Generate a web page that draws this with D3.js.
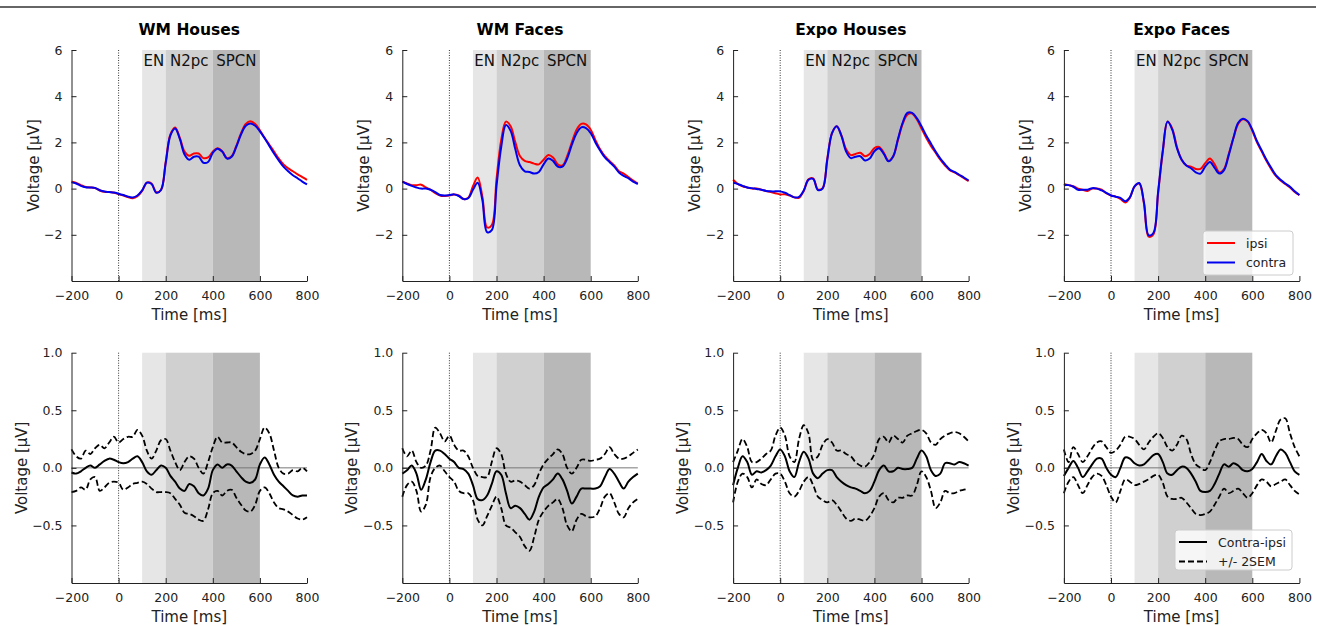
<!DOCTYPE html>
<meta charset="utf-8">
<style>
  body { margin: 0; background: #fff; }
  svg { font-family: "DejaVu Sans", sans-serif; display: block; }
</style>
<svg width="1322" height="626"></svg>
<script src="https://d3js.org/d3.v7.min.js"></script>
<script>

// time axis in ms (20 ms steps)
var times = [-200, -180, -160, -140, -120, -100, -80, -60, -40, -20,
             0, 20, 40, 60, 80, 100, 120, 140, 160, 180,
             200, 220, 240, 260, 280, 300, 320, 340, 360, 380,
             400, 420, 440, 460, 480, 500, 520, 540, 560, 580,
             600, 620, 640, 660, 680, 700, 720, 740, 760, 780, 800];

var panelTitles = ["WM Houses", "WM Faces", "Expo Houses", "Expo Faces"];
var xTicks = [-200, 0, 200, 400, 600, 800];
var topYTicks = [-2, 0, 2, 4, 6];
var bottomYTicks = [-0.5, 0, 0.5, 1.0];
// time windows: EN, N2pc, SPCN
var windows = [
  { name: "EN", from: 100, to: 200 },
  { name: "N2pc", from: 200, to: 400 },
  { name: "SPCN", from: 400, to: 600 }
];

// ---- grand averages (µV) ----
var wmHousesIpsi = [0.30, 0.25, 0.15, 0.07, 0.05, 0.02, -0.08, -0.14, -0.15, -0.18,
  -0.24, -0.30, -0.37, -0.42, -0.33, -0.10, 0.26, 0.22, -0.16, -0.06,
  1.15, 2.35, 2.65, 2.20, 1.60, 1.42, 1.52, 1.52, 1.32, 1.35,
  1.60, 1.75, 1.62, 1.32, 1.40, 1.85, 2.40, 2.80, 2.92, 2.80,
  2.52, 2.20, 1.90, 1.60, 1.30, 1.05, 0.88, 0.75, 0.62, 0.50, 0.38];
var wmHousesContra = [0.27, 0.22, 0.12, 0.06, 0.05, 0.03, -0.07, -0.13, -0.15, -0.17,
  -0.22, -0.28, -0.35, -0.38, -0.30, -0.08, 0.26, 0.20, -0.18, -0.06,
  1.10, 2.30, 2.60, 2.15, 1.48, 1.25, 1.38, 1.38, 1.12, 1.15,
  1.55, 1.73, 1.60, 1.30, 1.38, 1.82, 2.35, 2.72, 2.82, 2.72,
  2.48, 2.18, 1.85, 1.52, 1.22, 0.95, 0.75, 0.58, 0.45, 0.30, 0.18];

var wmFacesIpsi = [0.30, 0.22, 0.15, 0.15, 0.17, 0.05, -0.05, -0.20, -0.30, -0.32,
  -0.30, -0.25, -0.30, -0.45, -0.40, 0.10, 0.48, -0.35, -1.68, -1.58,
  0.40, 2.10, 2.90, 2.70, 2.00, 1.40, 1.20, 1.15, 1.08, 1.05,
  1.25, 1.45, 1.35, 1.05, 1.00, 1.40, 2.00, 2.55, 2.80, 2.78,
  2.55, 2.10, 1.70, 1.40, 1.20, 1.00, 0.75, 0.65, 0.50, 0.35, 0.22];
var wmFacesContra = [0.30, 0.20, 0.12, 0.05, 0.00, 0.00, -0.05, -0.15, -0.28, -0.30,
  -0.28, -0.25, -0.32, -0.45, -0.42, -0.05, 0.25, -0.50, -1.88, -1.80,
  0.10, 1.80, 2.75, 2.50, 1.70, 1.00, 0.75, 0.72, 0.65, 0.72,
  1.05, 1.30, 1.20, 0.95, 0.95, 1.30, 1.90, 2.40, 2.65, 2.62,
  2.40, 2.00, 1.65, 1.35, 1.15, 0.95, 0.70, 0.55, 0.45, 0.30, 0.20];

var expoHousesIpsi = [0.38, 0.20, 0.10, 0.05, 0.00, 0.00, -0.05, -0.10, -0.15, -0.20,
  -0.25, -0.25, -0.30, -0.38, -0.40, -0.10, 0.40, 0.44, -0.04, 0.02,
  1.30, 2.40, 2.70, 2.30, 1.70, 1.45, 1.50, 1.55, 1.40, 1.50,
  1.75, 1.80, 1.55, 1.20, 1.40, 2.10, 2.80, 3.20, 3.25, 3.00,
  2.60, 2.20, 1.85, 1.55, 1.25, 1.00, 0.80, 0.70, 0.58, 0.45, 0.32];
var expoHousesContra = [0.25, 0.20, 0.12, 0.05, 0.02, -0.02, -0.05, -0.10, -0.12, -0.12,
  -0.12, -0.18, -0.28, -0.38, -0.36, -0.08, 0.38, 0.42, -0.06, 0.00,
  1.25, 2.40, 2.70, 2.28, 1.60, 1.32, 1.38, 1.40, 1.22, 1.30,
  1.62, 1.75, 1.50, 1.18, 1.40, 2.15, 2.85, 3.28, 3.28, 3.05,
  2.70, 2.30, 1.95, 1.60, 1.30, 1.05, 0.82, 0.72, 0.60, 0.48, 0.35];

var expoFacesIpsi = [0.20, 0.15, 0.10, 0.00, -0.05, -0.10, 0.00, 0.00, -0.05, -0.20,
  -0.30, -0.35, -0.45, -0.60, -0.40, 0.10, 0.22, -0.65, -2.08, -1.98,
  -0.20, 1.60, 2.90, 2.60, 1.80, 1.25, 1.00, 0.95, 0.85, 0.85,
  1.10, 1.30, 1.05, 0.70, 0.85, 1.50, 2.20, 2.80, 3.00, 2.90,
  2.50, 2.00, 1.60, 1.20, 0.85, 0.55, 0.35, 0.20, 0.05, -0.15, -0.28];
var expoFacesContra = [0.15, 0.15, 0.08, -0.05, -0.05, -0.05, 0.02, 0.00, -0.08, -0.18,
  -0.30, -0.35, -0.40, -0.55, -0.38, 0.10, 0.24, -0.60, -2.02, -1.92,
  -0.15, 1.65, 2.90, 2.55, 1.75, 1.25, 1.00, 0.88, 0.70, 0.65,
  0.95, 1.15, 0.90, 0.65, 0.80, 1.45, 2.20, 2.85, 3.02, 2.92,
  2.55, 2.05, 1.65, 1.25, 0.90, 0.58, 0.38, 0.22, 0.08, -0.12, -0.28];

// ---- contra-ipsi differences and +/- 2SEM bounds (µV) ----
var wmHousesDiff = [-0.04, -0.05, -0.03, 0.00, 0.02, 0.00, 0.03, 0.06, 0.08, 0.07,
  0.05, 0.04, 0.05, 0.08, 0.10, 0.05, -0.03, -0.06, -0.02, 0.02,
  0.00, -0.07, -0.12, -0.18, -0.20, -0.14, -0.16, -0.22, -0.24, -0.18,
  -0.02, 0.03, 0.00, 0.03, 0.02, -0.03, -0.08, -0.12, -0.13, -0.10,
  0.03, 0.09, 0.03, -0.06, -0.12, -0.16, -0.20, -0.24, -0.25, -0.24, -0.24];
var wmHousesUpper = [0.16, 0.10, 0.08, 0.15, 0.12, 0.17, 0.20, 0.17, 0.22, 0.27,
  0.22, 0.25, 0.27, 0.27, 0.33, 0.28, 0.15, 0.08, 0.15, 0.24,
  0.25, 0.15, 0.05, -0.02, 0.05, 0.10, 0.08, 0.00, -0.05, 0.05,
  0.18, 0.27, 0.22, 0.22, 0.22, 0.18, 0.14, 0.12, 0.12, 0.15,
  0.25, 0.35, 0.30, 0.15, 0.00, -0.05, -0.05, -0.02, -0.03, 0.00, -0.03];
var wmHousesLower = [-0.21, -0.20, -0.17, -0.19, -0.10, -0.08, -0.20, -0.17, -0.13, -0.12,
  -0.13, -0.19, -0.17, -0.14, -0.13, -0.12, -0.14, -0.18, -0.21, -0.21,
  -0.21, -0.22, -0.27, -0.32, -0.39, -0.40, -0.42, -0.45, -0.46, -0.36,
  -0.22, -0.20, -0.24, -0.20, -0.19, -0.26, -0.32, -0.37, -0.38, -0.32,
  -0.20, -0.17, -0.22, -0.30, -0.35, -0.36, -0.38, -0.41, -0.44, -0.45, -0.43];

var wmFacesDiff = [-0.05, -0.02, 0.02, -0.05, -0.19, -0.10, 0.05, 0.15, 0.15, 0.12,
  0.08, 0.05, 0.00, -0.01, -0.05, -0.15, -0.27, -0.28, -0.24, -0.14,
  -0.03, -0.06, -0.22, -0.35, -0.33, -0.35, -0.40, -0.45, -0.38, -0.25,
  -0.17, -0.14, -0.10, -0.05, -0.10, -0.20, -0.31, -0.25, -0.18, -0.18,
  -0.18, -0.18, -0.16, -0.08, -0.01, -0.05, -0.12, -0.18, -0.12, -0.08, -0.05];
var wmFacesUpper = [0.17, 0.10, 0.15, 0.05, 0.00, 0.02, 0.15, 0.35, 0.30, 0.23,
  0.28, 0.20, 0.15, 0.15, 0.10, 0.00, -0.07, -0.08, -0.08, 0.05,
  0.17, 0.12, -0.05, -0.12, -0.11, -0.12, -0.15, -0.18, -0.15, -0.05,
  0.03, 0.08, 0.12, 0.16, 0.12, 0.00, -0.05, 0.00, 0.07, 0.07,
  0.06, 0.07, 0.08, 0.12, 0.18, 0.12, 0.08, 0.08, 0.10, 0.13, 0.16];
var wmFacesLower = [-0.25, -0.15, -0.12, -0.20, -0.38, -0.32, -0.08, 0.00, 0.02, -0.03,
  -0.08, -0.12, -0.20, -0.22, -0.22, -0.28, -0.45, -0.50, -0.42, -0.33,
  -0.25, -0.35, -0.50, -0.52, -0.56, -0.60, -0.68, -0.72, -0.60, -0.45,
  -0.38, -0.33, -0.30, -0.27, -0.35, -0.50, -0.55, -0.45, -0.40, -0.42,
  -0.43, -0.42, -0.35, -0.25, -0.22, -0.30, -0.40, -0.43, -0.35, -0.30, -0.27];

var expoHousesDiff = [-0.15, 0.00, 0.10, 0.05, -0.06, -0.03, -0.04, -0.02, 0.02, 0.10,
  0.16, 0.10, -0.03, -0.08, 0.05, 0.14, 0.08, -0.05, -0.09, -0.05,
  -0.02, -0.02, -0.08, -0.12, -0.15, -0.17, -0.18, -0.20, -0.22, -0.20,
  -0.12, -0.02, 0.02, -0.03, -0.03, 0.00, -0.01, -0.01, 0.00, 0.08,
  0.15, 0.10, -0.02, -0.07, -0.05, 0.04, 0.04, 0.03, 0.05, 0.04, 0.02];
var expoHousesUpper = [0.05, 0.15, 0.25, 0.18, 0.05, 0.05, 0.08, 0.12, 0.15, 0.28,
  0.35, 0.28, 0.10, 0.05, 0.25, 0.37, 0.30, 0.07, 0.10, 0.20,
  0.25, 0.22, 0.15, 0.15, 0.12, 0.10, 0.05, 0.02, 0.01, 0.05,
  0.12, 0.25, 0.27, 0.22, 0.28, 0.25, 0.22, 0.28, 0.30, 0.32,
  0.33, 0.30, 0.22, 0.20, 0.25, 0.28, 0.30, 0.31, 0.30, 0.27, 0.23];
var expoHousesLower = [-0.30, -0.12, -0.05, -0.08, -0.17, -0.10, -0.14, -0.15, -0.10, -0.05,
  -0.05, -0.12, -0.22, -0.25, -0.20, -0.12, -0.08, -0.15, -0.25, -0.28,
  -0.30, -0.28, -0.32, -0.38, -0.44, -0.46, -0.44, -0.45, -0.46, -0.42,
  -0.35, -0.25, -0.22, -0.28, -0.30, -0.26, -0.26, -0.24, -0.24, -0.15,
  -0.03, -0.08, -0.20, -0.35, -0.30, -0.20, -0.22, -0.22, -0.20, -0.19, -0.18];

var expoFacesDiff = [-0.07, 0.00, 0.06, 0.00, -0.08, -0.03, 0.03, 0.08, 0.08, 0.00,
  -0.06, -0.08, 0.00, 0.09, 0.08, 0.04, 0.02, 0.03, 0.07, 0.11,
  0.12, 0.05, -0.05, -0.06, -0.02, 0.01, 0.00, -0.05, -0.12, -0.20,
  -0.21, -0.20, -0.14, -0.05, 0.03, 0.01, 0.04, 0.02, -0.02, -0.03,
  -0.01, 0.05, 0.12, 0.06, 0.03, 0.10, 0.16, 0.13, 0.05, -0.03, -0.06];
var expoFacesUpper = [0.16, 0.05, 0.18, 0.12, 0.05, 0.10, 0.17, 0.22, 0.23, 0.18,
  0.13, 0.15, 0.20, 0.27, 0.27, 0.25, 0.20, 0.16, 0.22, 0.27,
  0.30, 0.26, 0.18, 0.15, 0.20, 0.28, 0.25, 0.12, 0.03, 0.00,
  -0.02, 0.05, 0.15, 0.23, 0.25, 0.25, 0.26, 0.25, 0.20, 0.18,
  0.25, 0.30, 0.33, 0.30, 0.22, 0.32, 0.42, 0.43, 0.30, 0.18, 0.10];
var expoFacesLower = [-0.22, -0.12, -0.08, -0.15, -0.22, -0.15, -0.08, -0.05, -0.07, -0.15,
  -0.25, -0.30, -0.20, -0.10, -0.12, -0.15, -0.14, -0.12, -0.10, -0.07,
  -0.06, -0.13, -0.25, -0.27, -0.27, -0.26, -0.30, -0.35, -0.40, -0.41,
  -0.40, -0.38, -0.32, -0.25, -0.18, -0.22, -0.20, -0.18, -0.22, -0.26,
  -0.22, -0.15, -0.10, -0.12, -0.16, -0.14, -0.12, -0.10, -0.15, -0.20, -0.23];

var ipsi = [wmHousesIpsi, wmFacesIpsi, expoHousesIpsi, expoFacesIpsi];
var contra = [wmHousesContra, wmFacesContra, expoHousesContra, expoFacesContra];
var diffs = [wmHousesDiff, wmFacesDiff, expoHousesDiff, expoFacesDiff];
var uppers = [wmHousesUpper, wmFacesUpper, expoHousesUpper, expoFacesUpper];
var lowers = [wmHousesLower, wmFacesLower, expoHousesLower, expoFacesLower];

var svg = d3.select("svg");
var shade = ["#e6e6e6", "#d0d0d0", "#b8b8b8"];
var panelW = 235.5;
var rows = [
  { top: 50, bottom: 281, domain: [-4, 6], ticks: topYTicks, fmt: d3.format("d") },
  { top: 352.7, bottom: 583, domain: [-1, 1], ticks: bottomYTicks, fmt: d3.format(".1f") }
];

// thin rule across the top of the figure
svg.append("line")
  .attr("x1", 0).attr("x2", 1316).attr("y1", 7).attr("y2", 7)
  .attr("stroke", "#333").attr("stroke-width", 1.5);

function seriesOf(values) {
  return values.map(function(v, i) { return [times[i], v]; });
}

function drawPanel(col, rowIdx) {
  var r = rows[rowIdx];
  var left = 71.5 + col * 330.8;
  var x = d3.scaleLinear().domain([-200, 800]).range([left, left + panelW]);
  var y = d3.scaleLinear().domain(r.domain).range([r.bottom, r.top]);
  var g = svg.append("g");

  // shaded time windows
  g.selectAll("rect.win").data(windows).enter().append("rect")
    .attr("x", function(d) { return x(d.from); })
    .attr("width", function(d) { return x(d.to) - x(d.from); })
    .attr("y", r.top).attr("height", r.bottom - r.top)
    .attr("fill", function(d, i) { return shade[i]; });

  // stimulus onset
  g.append("line")
    .attr("x1", x(0)).attr("x2", x(0)).attr("y1", r.top).attr("y2", r.bottom)
    .attr("stroke", "#000").attr("stroke-width", 0.8).attr("stroke-dasharray", "1,1.5");

  var line = d3.line()
    .x(function(d) { return x(d[0]); })
    .y(function(d) { return y(d[1]); })
    .curve(d3.curveCatmullRom);

  if (rowIdx === 0) {
    g.selectAll("text.win").data(windows).enter().append("text")
      .attr("x", function(d) { return (x(d.from) + x(d.to)) / 2; })
      .attr("y", r.top + 15.5)
      .attr("text-anchor", "middle")
      .attr("font-size", 15).attr("fill", "#111")
      .text(function(d) { return d.name; });

    g.append("path").datum(seriesOf(ipsi[col]))
      .attr("d", line).attr("fill", "none").attr("stroke", "#ff0000").attr("stroke-width", 2);
    g.append("path").datum(seriesOf(contra[col]))
      .attr("d", line).attr("fill", "none").attr("stroke", "#0000ee").attr("stroke-width", 2);

    svg.append("text")
      .attr("x", left + panelW / 2).attr("y", 35)
      .attr("text-anchor", "middle").attr("font-size", 15.5).attr("font-weight", "bold")
      .text(panelTitles[col]);
  } else {
    g.append("line")
      .attr("x1", x(-200)).attr("x2", x(800)).attr("y1", y(0)).attr("y2", y(0))
      .attr("stroke", "#777").attr("stroke-width", 1);
    [uppers[col], lowers[col]].forEach(function(s) {
      g.append("path").datum(seriesOf(s))
        .attr("d", line).attr("fill", "none").attr("stroke", "#000")
        .attr("stroke-width", 1.8).attr("stroke-dasharray", "6,3");
    });
    g.append("path").datum(seriesOf(diffs[col]))
      .attr("d", line).attr("fill", "none").attr("stroke", "#000").attr("stroke-width", 2);
  }

  // axes with inward ticks, only left & bottom spines
  var xAxis = d3.axisBottom(x).tickValues(xTicks).tickSizeInner(-5).tickSizeOuter(0)
    .tickPadding(9);
  var yAxis = d3.axisLeft(y).tickValues(r.ticks).tickSizeInner(-5).tickSizeOuter(0)
    .tickFormat(r.fmt).tickPadding(9);

  var xa = svg.append("g").attr("transform", "translate(0," + r.bottom + ")").call(xAxis);
  var ya = svg.append("g").attr("transform", "translate(" + left + ",0)").call(yAxis);
  [xa, ya].forEach(function(a) {
    a.selectAll("text").attr("font-size", 12.5).attr("fill", "#222")
      .attr("font-family", "DejaVu Sans");
    a.selectAll("line").attr("stroke", "#222");
    a.select(".domain").attr("stroke", "#222");
  });
  xa.selectAll("text").attr("dy", "0.71em").attr("y", 10);

  svg.append("text")
    .attr("x", left + panelW / 2).attr("y", r.bottom + 39)
    .attr("text-anchor", "middle").attr("font-size", 15).attr("fill", "#222")
    .text("Time [ms]");

  var labelX = rowIdx === 0 ? left - 38 : left - 50;
  svg.append("text")
    .attr("transform", "translate(" + (labelX + 5) + "," + ((r.top + r.bottom) / 2) + ") rotate(-90)")
    .attr("text-anchor", "middle").attr("font-size", 15).attr("fill", "#222")
    .text("Voltage [μV]");
}

for (var c = 0; c < 4; c++) {
  drawPanel(c, 0);
  drawPanel(c, 1);
}

// legends (last column)
function legend(x0, y0, w, h, items) {
  var lg = svg.append("g");
  lg.append("rect").attr("x", x0).attr("y", y0).attr("width", w).attr("height", h)
    .attr("rx", 3).attr("fill", "#fff").attr("fill-opacity", 0.8)
    .attr("stroke", "#ccc").attr("stroke-width", 1);
  items.forEach(function(it, i) {
    var yy = y0 + 12 + i * 19.5;
    lg.append("line").attr("x1", x0 + 4).attr("x2", x0 + 32).attr("y1", yy).attr("y2", yy)
      .attr("stroke", it.color).attr("stroke-width", it.width)
      .attr("stroke-dasharray", it.dash || null);
    lg.append("text").attr("x", x0 + 43).attr("y", yy + 4.5)
      .attr("font-size", 12.5).attr("fill", "#222").text(it.label);
  });
}
legend(1203, 231, 90, 44, [
  { label: "ipsi", color: "#ff0000", width: 2 },
  { label: "contra", color: "#0000ee", width: 2 }
]);
legend(1175, 530, 117, 40, [
  { label: "Contra-ipsi", color: "#000", width: 2 },
  { label: "+/- 2SEM", color: "#000", width: 1.8, dash: "6,3" }
]);

</script>
